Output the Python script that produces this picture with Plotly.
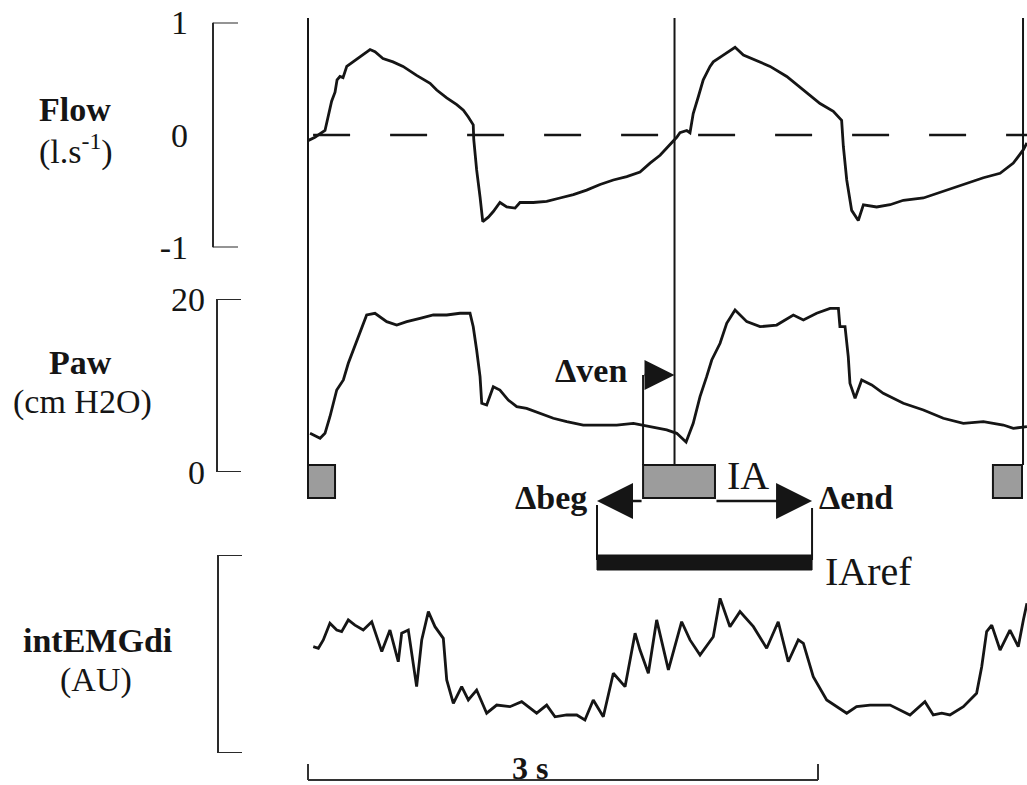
import plotly.graph_objects as go

# ---------------- data (time in s, values in panel units) ----------------
flow_t = [0.000, 0.041, 0.100, 0.118, 0.139, 0.159, 0.171, 0.188, 0.206, 0.228, 0.265, 0.316, 0.365, 0.394,
          0.441, 0.500, 0.559, 0.639, 0.718, 0.757, 0.816, 0.875, 0.914, 0.943, 0.972, 0.975, 0.992, 1.012,
          1.028, 1.061, 1.090, 1.129, 1.169, 1.218, 1.247, 1.325, 1.404, 1.482, 1.561, 1.639, 1.718, 1.796,
          1.875, 1.953, 2.012, 2.071, 2.129, 2.169, 2.188, 2.228, 2.247, 2.266, 2.296, 2.325, 2.365, 2.384,
          2.443, 2.512, 2.561, 2.620, 2.718, 2.816, 2.914, 3.012, 3.090, 3.139, 3.149, 3.169, 3.198, 3.237,
          3.267, 3.345, 3.424, 3.502, 3.620, 3.737, 3.855, 3.973, 4.071, 4.149, 4.208, 4.229]
flow_v = [-0.05, -0.02, 0.04, 0.16, 0.30, 0.38, 0.49, 0.52, 0.51, 0.61, 0.65, 0.71, 0.76, 0.74,
          0.68, 0.65, 0.61, 0.53, 0.46, 0.40, 0.33, 0.27, 0.22, 0.16, 0.09, -0.04, -0.31, -0.55,
          -0.77, -0.73, -0.68, -0.60, -0.64, -0.65, -0.60, -0.60, -0.59, -0.56, -0.53, -0.49, -0.44, -0.40,
          -0.37, -0.33, -0.25, -0.18, -0.09, -0.02, 0.02, 0.04, 0.02, 0.19, 0.34, 0.49, 0.61, 0.65,
          0.71, 0.78, 0.71, 0.67, 0.61, 0.52, 0.40, 0.28, 0.21, 0.13, -0.10, -0.40, -0.67, -0.76,
          -0.62, -0.64, -0.62, -0.58, -0.56, -0.50, -0.44, -0.38, -0.34, -0.25, -0.13, -0.07]

paw_t = [0.012, 0.071, 0.100, 0.129, 0.169, 0.208, 0.237, 0.266, 0.296, 0.316, 0.345, 0.394, 0.463, 0.522,
         0.581, 0.659, 0.737, 0.816, 0.894, 0.953, 0.972, 0.992, 1.012, 1.022, 1.051, 1.090, 1.129, 1.178,
         1.228, 1.286, 1.365, 1.443, 1.522, 1.619, 1.718, 1.816, 1.914, 2.012, 2.110, 2.169, 2.224, 2.266,
         2.306, 2.345, 2.375, 2.424, 2.463, 2.512, 2.581, 2.659, 2.757, 2.855, 2.914, 2.992, 3.071, 3.120,
         3.129, 3.159, 3.178, 3.188, 3.218, 3.257, 3.316, 3.384, 3.502, 3.620, 3.737, 3.855, 3.973, 4.090,
         4.149, 4.229]
paw_v = [4.47, 3.90, 4.47, 6.39, 9.48, 10.64, 12.57, 14.10, 15.64, 16.80, 18.15, 18.35, 17.38, 16.99,
         17.38, 17.77, 18.15, 18.15, 18.35, 18.35, 16.80, 14.10, 11.02, 7.94, 7.75, 9.86, 9.48, 8.32,
         7.55, 7.36, 6.79, 6.21, 5.82, 5.43, 5.43, 5.43, 5.63, 5.24, 4.86, 4.47, 3.47, 5.63,
         8.71, 11.02, 12.95, 14.88, 17.19, 18.73, 17.38, 16.80, 16.99, 18.15, 17.57, 18.35, 18.92, 18.92,
         16.80, 16.80, 13.33, 10.25, 8.52, 10.64, 10.06, 9.10, 7.94, 7.17, 6.21, 5.63, 5.82, 5.43,
         5.05, 5.24]

emg_t = [0.031, 0.061, 0.090, 0.129, 0.169, 0.198, 0.237, 0.276, 0.325, 0.375, 0.434, 0.482, 0.531, 0.551,
         0.590, 0.639, 0.669, 0.708, 0.747, 0.796, 0.816, 0.855, 0.904, 0.943, 0.992, 1.051, 1.110, 1.188,
         1.257, 1.345, 1.404, 1.453, 1.522, 1.581, 1.629, 1.678, 1.737, 1.796, 1.865, 1.904, 1.924, 1.953,
         2.002, 2.051, 2.120, 2.198, 2.247, 2.306, 2.384, 2.424, 2.482, 2.541, 2.620, 2.698, 2.766, 2.825,
         2.884, 2.914, 2.972, 3.051, 3.169, 3.227, 3.306, 3.424, 3.541, 3.629, 3.678, 3.728, 3.776, 3.855,
         3.933, 3.963, 3.992, 4.022, 4.071, 4.129, 4.178, 4.208, 4.229]
emg_v = [5.37, 5.29, 5.71, 6.55, 6.21, 6.13, 6.72, 6.46, 6.21, 6.63, 5.12, 6.21, 4.61, 6.05,
         6.21, 3.35, 5.71, 7.14, 6.38, 5.79, 3.69, 2.51, 3.35, 2.68, 3.18, 2.01, 2.42, 2.34,
         2.59, 2.01, 2.42, 1.83, 1.92, 1.92, 1.67, 2.68, 1.83, 4.03, 3.35, 5.12, 6.05, 5.20,
         4.03, 6.72, 4.20, 6.63, 5.71, 4.95, 5.87, 7.81, 6.38, 7.14, 6.38, 5.29, 6.63, 4.61,
         5.71, 5.54, 3.85, 2.68, 2.01, 2.34, 2.42, 2.42, 1.92, 2.59, 1.92, 2.01, 1.92, 2.34,
         3.02, 4.36, 6.13, 6.46, 5.20, 6.21, 5.37, 6.72, 7.56]

assert len(flow_t) == len(flow_v) and len(paw_t) == len(paw_v) and len(emg_t) == len(emg_v)

cycle_onset_s = [0.0, 2.156, 4.206]       # ventilator cycle markers (vertical lines)
ia_start_s = [0.0, 1.971, 4.029]          # grey inspiratory-activity boxes
ia_end_s = [0.159, 2.394, 4.200]
iaref_s = [1.700, 2.965]                  # IAref bar
scale_bar_s = [0.0, 3.0]                  # "3 s" scale bar
zero_line_s = [0.03, 4.23]                # dashed zero-flow line extent

flow_ticks = [1, 0, -1]
flow_ticktext = ["1", "0", "-1"]
paw_ticks = [20, 0]
paw_ticktext = ["20", "0"]
flow_range = [-1, 1]
paw_range = [0, 20]
emg_range = [0, 10]

# ---------------- layout geometry (pixels) ----------------
W, H = 1027, 785
PX_PER_S = 170.0
T0_PX = 308.0
FONT = "Liberation Serif, Times New Roman, serif"
INK = "#151515"


def yp(p):
    return 1 - p / H


def xp(p):
    return p / W


x_range = [(0 - T0_PX) / PX_PER_S, (W - T0_PX) / PX_PER_S]

fig = go.Figure()
line_style = dict(color=INK, width=2.8)
fig.add_trace(go.Scatter(x=flow_t, y=flow_v, mode="lines", line=line_style, xaxis="x", yaxis="y"))
fig.add_trace(go.Scatter(x=zero_line_s, y=[0, 0], mode="lines",
                         line=dict(color=INK, width=2.4, dash="37px,40px"), xaxis="x", yaxis="y"))
fig.add_trace(go.Scatter(x=paw_t, y=paw_v, mode="lines", line=line_style, xaxis="x", yaxis="y2"))
fig.add_trace(go.Scatter(x=emg_t, y=emg_v, mode="lines", line=line_style, xaxis="x", yaxis="y3"))

common_y = dict(showgrid=False, zeroline=False, showline=False, ticks="", anchor="free", automargin=False,
                tickfont=dict(family=FONT, size=34, color=INK), fixedrange=True)

fig.update_layout(
    template="none",
    width=W, height=H, autosize=False,
    margin=dict(l=0, r=0, t=0, b=0, pad=0),
    paper_bgcolor="white", plot_bgcolor="white",
    showlegend=False,
    xaxis=dict(domain=[0, 1], range=x_range, visible=False, fixedrange=True, automargin=False),
    yaxis=dict(domain=[yp(247.5), yp(22.5)], range=flow_range, tickvals=flow_ticks,
               ticktext=flow_ticktext, position=xp(188), **common_y),
    yaxis2=dict(domain=[yp(472), yp(299)], range=paw_range, tickvals=paw_ticks,
                ticktext=paw_ticktext, position=xp(205), **common_y),
    yaxis3=dict(domain=[yp(753), yp(555)], range=emg_range, showticklabels=False, **common_y),
)

shapes = []
bracket = dict(color="#2a2a2a", width=2)
# scale brackets on the left
for yref, rng, xl, tick in (("y", flow_range, 213, 238), ("y2", paw_range, 217, 241), ("y3", emg_range, 218, 242)):
    shapes.append(dict(type="line", xref="paper", yref=yref, x0=xp(xl), x1=xp(xl), y0=rng[0], y1=rng[1], line=bracket))
    for v in rng:
        shapes.append(dict(type="line", xref="paper", yref=yref, x0=xp(xl), x1=xp(tick), y0=v, y1=v, line=bracket))

# ventilator cycle vertical lines
for t in cycle_onset_s:
    shapes.append(dict(type="line", xref="x", yref="paper", x0=t, x1=t, y0=yp(465), y1=yp(18),
                       line=dict(color=INK, width=2)))

# grey IA boxes
for a, b in zip(ia_start_s, ia_end_s):
    shapes.append(dict(type="rect", xref="x", yref="paper", x0=a, x1=b, y0=yp(498), y1=yp(465),
                       fillcolor="#9c9c9c", line=dict(color=INK, width=2)))

# delta-ven vertical
shapes.append(dict(type="line", xref="x", yref="paper", x0=ia_start_s[1], x1=ia_start_s[1],
                   y0=yp(465), y1=yp(375), line=dict(color=INK, width=2)))
# IAref bracket and bar
shapes.append(dict(type="line", xref="x", yref="paper", x0=iaref_s[0], x1=iaref_s[0],
                   y0=yp(560), y1=yp(505), line=dict(color=INK, width=2)))
shapes.append(dict(type="line", xref="x", yref="paper", x0=iaref_s[1], x1=iaref_s[1],
                   y0=yp(560), y1=yp(508), line=dict(color=INK, width=2)))
shapes.append(dict(type="rect", xref="x", yref="paper", x0=iaref_s[0], x1=iaref_s[1],
                   y0=yp(570), y1=yp(555), fillcolor=INK, line=dict(color=INK, width=1)))
# scale bar
shapes.append(dict(type="line", xref="x", yref="paper", x0=scale_bar_s[0], x1=scale_bar_s[1],
                   y0=yp(780), y1=yp(780), line=dict(color="#333", width=2)))
for t in scale_bar_s:
    shapes.append(dict(type="line", xref="x", yref="paper", x0=t, x1=t, y0=yp(780), y1=yp(764),
                       line=dict(color="#333", width=2)))
fig.update_layout(shapes=shapes)

ann = []


def label(text, x, y, size=34, bold=False, xanchor="center"):
    t = f"<b>{text}</b>" if bold else text
    ann.append(dict(text=t, x=xp(x), y=yp(y), xref="paper", yref="paper", showarrow=False,
                    xanchor=xanchor, yanchor="middle", font=dict(family=FONT, size=size, color=INK)))


label("Flow", 75, 110, bold=True)
label("(l.s<sup>-1</sup>)", 76, 150)
label("Paw", 80, 362, bold=True)
label("(cm H2O)", 82, 402)
label("intEMGdi", 97, 640, bold=True)
label("(AU)", 96, 680)
label("Δven", 591, 370, bold=True)
label("Δbeg", 589, 497, bold=True, xanchor="right")
label("Δend", 817, 497, bold=True, xanchor="left")
label("IA", 748, 475, size=40)
label("IAref", 823, 571, size=40, xanchor="left")
label("3 s", 530, 768, size=32, bold=True)

arrow = dict(showarrow=True, arrowhead=2, arrowsize=3.0, arrowwidth=2.4, arrowcolor=INK, text="",
             xref="x", yref="paper", axref="x", ayref="pixel", ay=0, standoff=0, startstandoff=0)
ann.append(dict(arrow, x=iaref_s[0], ax=ia_start_s[1], y=yp(501)))
ann.append(dict(arrow, x=iaref_s[1], ax=ia_end_s[1], y=yp(501)))
ann.append(dict(arrow, x=cycle_onset_s[1], ax=ia_start_s[1], y=yp(375), arrowsize=2.5))
fig.update_layout(annotations=ann)

fig.write_html("out.html", config={"displayModeBar": False},
               post_script="document.body.style.margin='0';document.body.style.overflow='hidden';")
